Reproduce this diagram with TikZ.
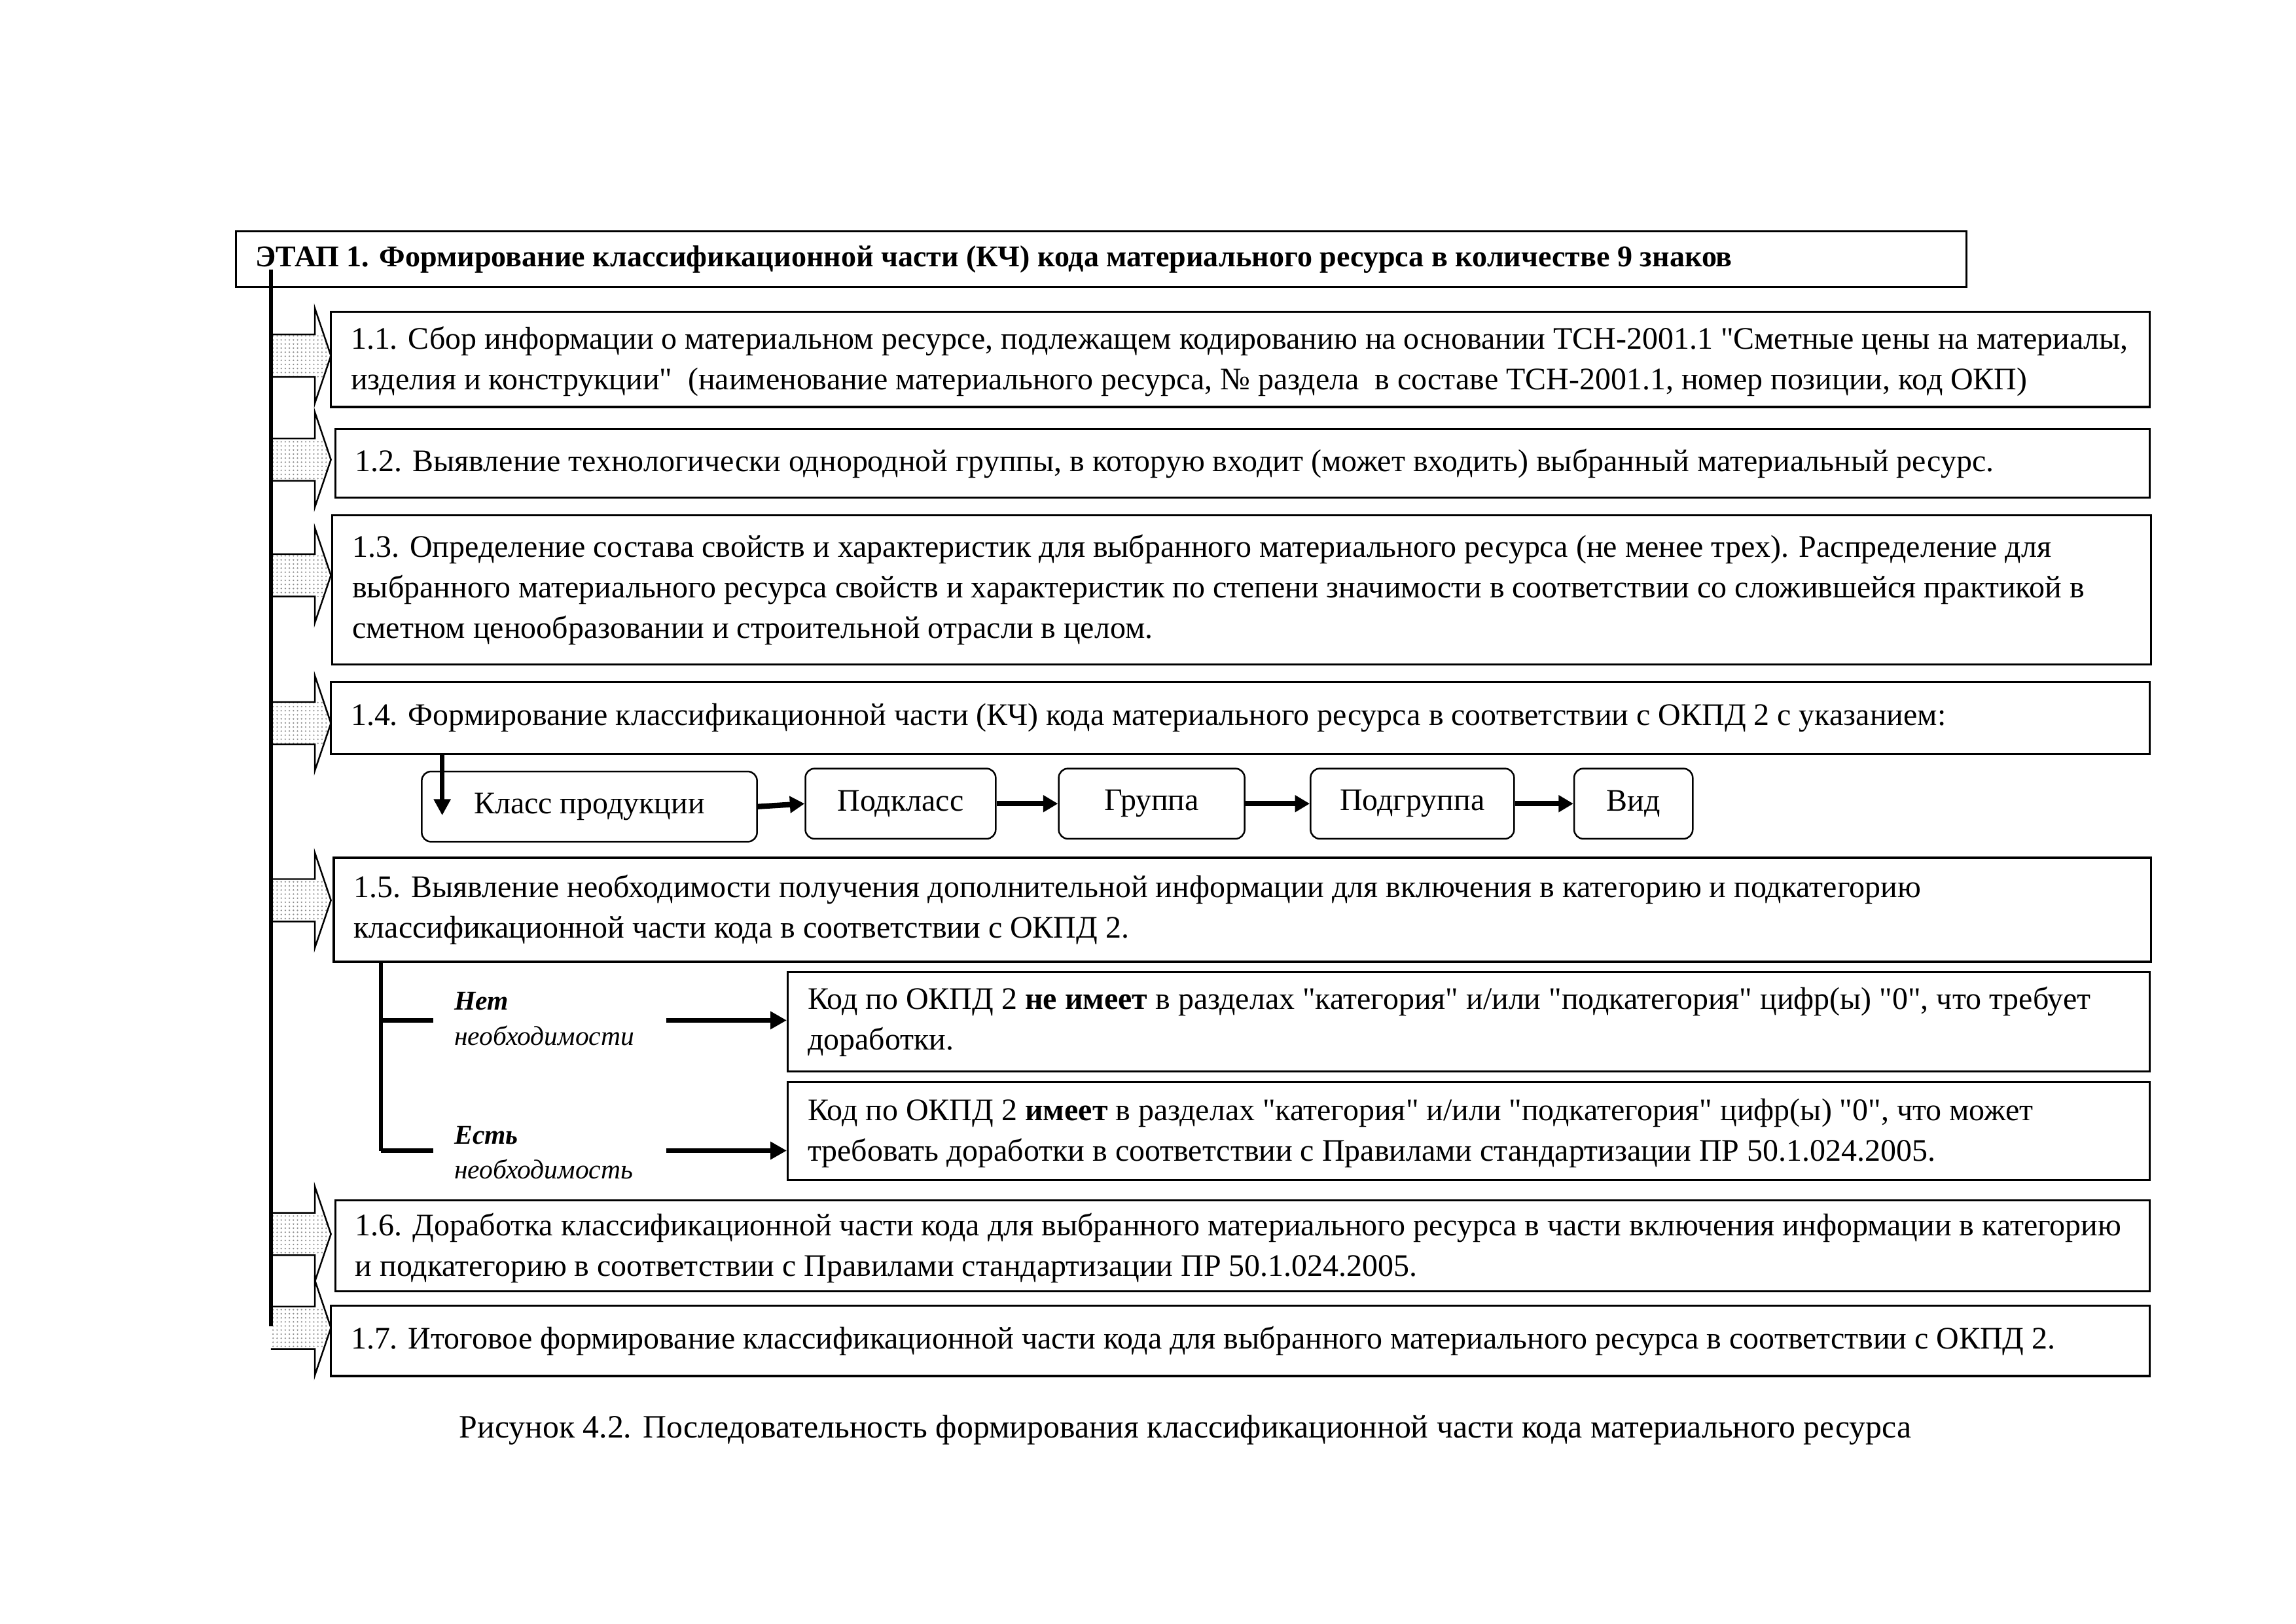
\documentclass[tikz,border=0pt]{standalone}
\usepackage{fontspec}
\setmainfont{Liberation Serif}[Ligatures=TeXOff]
\usetikzlibrary{arrows.meta,patterns}
\pgfdeclarepatternformonly{finedots}{\pgfqpoint{-0.3pt}{-0.3pt}}{\pgfqpoint{0.3pt}{0.3pt}}{\pgfqpoint{1.5pt}{1.5pt}}{%
  \pgfpathcircle{\pgfqpoint{0pt}{0pt}}{0.3pt}\pgfusepath{fill}}
\newcommand\stepArrow[1]{%
 \begin{scope}[shift={(0,#1)}]
  \fill[white] (185,-14.5) -- (215,-14.5) -- (215,-32.5) -- (226,0) -- (215,32.5) -- (215,14.5) -- (185,14.5) -- cycle;
  \begin{scope}
   \clip (185,-14.5) -- (215,-14.5) -- (215,-32.5) -- (226,0) -- (215,32.5) -- (215,14.5) -- (185,14.5) -- cycle;
   \fill[pattern=finedots, pattern color=black!45] (185,-14.5) rectangle (226,14.5);
  \end{scope}
  \draw[line width=0.6pt] (185,-14.5) -- (215,-14.5) -- (215,-32.5) -- (226,0) -- (215,32.5) -- (215,14.5) -- (185,14.5);
 \end{scope}}
\begin{document}
\begin{tikzpicture}[x=0.18941mm,y=-0.18941mm,
  font=\fontsize{11.55}{15}\selectfont,
  box/.style={draw, line width=0.8pt, inner sep=0pt},
  txt/.style={anchor=west, align=left, inner sep=0pt},
  rbox/.style={draw, line width=0.6pt, rounded corners=1.2mm, inner sep=0pt, minimum height=9.09mm},
  chain/.style={line width=2pt, -{Triangle[length=1.9mm,width=2.1mm]}},
  downarrow/.style={line width=1.6pt, -{Triangle[length=2.1mm,width=2.1mm]}},
  branch/.style={line width=1.5pt},
  barrow/.style={line width=1.8pt, -{Triangle[length=2.1mm,width=2.2mm]}},
  lbl/.style={anchor=west, align=left, inner sep=0pt, font=\fontsize{10}{12.9}\selectfont}
]
\useasboundingbox (0,0) rectangle (1568,1109);

% top box
\node[box, minimum width=223.88mm, minimum height=7.20mm] (top) at (752,177) {};
\node[txt, font=\fontsize{11.1}{15}\selectfont\bfseries] (ttop) at ([xshift=2.65mm]top.west) {ЭТАП 1. Формирование классификационной части (КЧ) кода материального ресурса в количестве 9 знаков};

% main boxes
\node[box, minimum width=235.25mm, minimum height=12.31mm] (b11) at (847,245.5) {};
\node[box, minimum width=234.68mm, minimum height=8.90mm] (b12) at (848.5,316.5) {};
\node[box, minimum width=235.25mm, minimum height=19.32mm] (b13) at (848,403) {};
\node[box, minimum width=235.25mm, minimum height=9.28mm] (b14) at (847,490.5) {};
\node[box, minimum width=235.06mm, minimum height=13.45mm] (b15) at (848.5,621.5) {};
\node[box, minimum width=176.15mm, minimum height=12.88mm] (bn) at (1003,698) {};
\node[box, minimum width=176.15mm, minimum height=12.69mm] (be) at (1003,772.5) {};
\node[box, minimum width=234.68mm, minimum height=11.74mm] (b16) at (848.5,851) {};
\node[box, minimum width=235.25mm, minimum height=9.09mm] (b17) at (847,916) {};

\node[txt] (t11) at ([xshift=2.65mm,yshift=-0.3mm]b11.west) {1.1. Сбор информации о материальном ресурсе, подлежащем кодированию на основании ТСН-2001.1 "Сметные цены на материалы,\\изделия и конструкции"\ \ (наименование материального ресурса, № раздела\ \ в составе ТСН-2001.1, номер позиции, код ОКП)};
\node[txt] (t12) at ([xshift=2.65mm]b12.west) {1.2. Выявление технологически однородной группы, в которую входит (может входить) выбранный материальный ресурс.};
\node[txt] (t13) at ([xshift=2.65mm]b13.west) {1.3. Определение состава свойств и характеристик для выбранного материального ресурса (не менее трех). Распределение для\\выбранного материального ресурса свойств и характеристик по степени значимости в соответствии со сложившейся практикой в\\сметном ценообразовании и строительной отрасли в целом.};
\node[txt] (t14) at ([xshift=2.65mm]b14.west) {1.4. Формирование классификационной части (КЧ) кода материального ресурса в соответствии с ОКПД 2 с указанием:};
\node[txt] (t15) at ([xshift=2.65mm]b15.west) {1.5. Выявление необходимости получения дополнительной информации для включения в категорию и подкатегорию\\классификационной части кода в соответствии с ОКПД 2.};
\node[txt] (tn) at ([xshift=2.65mm]bn.west) {Код по ОКПД 2 \textbf{не имеет} в разделах "категория" и/или "подкатегория" цифр(ы) "0", что требует\\доработки.};
\node[txt] (te) at ([xshift=2.65mm,yshift=-0.3mm]be.west) {Код по ОКПД 2 \textbf{имеет} в разделах "категория" и/или "подкатегория" цифр(ы) "0", что может\\требовать доработки в соответствии с Правилами стандартизации ПР 50.1.024.2005.};
\node[txt] (t16) at ([xshift=2.65mm,yshift=-0.3mm]b16.west) {1.6. Доработка классификационной части кода для выбранного материального ресурса в части включения информации в категорию\\и подкатегорию в соответствии с Правилами стандартизации ПР 50.1.024.2005.};
\node[txt] (t17) at ([xshift=2.65mm]b17.west) {1.7. Итоговое формирование классификационной части кода для выбранного материального ресурса в соответствии с ОКПД 2.};

% chain of rounded boxes
\node[rbox, minimum width=43.37mm] (k) at (402.5,551) {Класс продукции};
\node[rbox, minimum width=24.62mm] (p) at (615,549) {Подкласс};
\node[rbox, minimum width=24.05mm] (g) at (786.5,549) {Группа};
\node[rbox, minimum width=26.33mm] (pg) at (964.5,549) {Подгруппа};
\node[rbox, minimum width=15.34mm] (v) at (1115.5,549) {Вид};
\draw[chain] (k.east) -- (p.west);
\draw[chain] (p.east) -- (g.west);
\draw[chain] (g.east) -- (pg.west);
\draw[chain] (pg.east) -- (v.west);
\coordinate (dx) at (302,557);
\draw[downarrow] (b14.south -| dx) -- (dx);

% left block arrows
\stepArrow{243}
\stepArrow{314}
\stepArrow{393}
\stepArrow{494}
\stepArrow{615}
\stepArrow{843}
\stepArrow{907}

% spine
\coordinate (spinetop) at (185,184);
\coordinate (spinebot) at (185,906);
\draw[line width=1.5pt] (spinetop) -- (spinebot);

% branch
\coordinate (br1) at (260,697);
\coordinate (br2) at (260,786);
\draw[branch] (b15.south -| br1) -- (br2);
\draw[line width=1.8pt] (br1) -- ++(36,0);
\draw[line width=1.8pt] (br2) -- ++(36,0);
\node[lbl] (lnet) at (310,696) {\textbf{\textit{Нет}}\\\textit{необходимости}};
\node[lbl] (lest) at (310,787.5) {\textbf{\textit{Есть}}\\\textit{необходимость}};
\coordinate (a1) at (455,697);
\coordinate (a2) at (455,786);
\draw[barrow] (a1) -- (a1 -| bn.west);
\draw[barrow] (a2) -- (a2 -| be.west);

% caption
\node[inner sep=0pt, font=\fontsize{12}{15}\selectfont] (cap) at (809.5,977) {Рисунок 4.2. Последовательность формирования классификационной части кода материального ресурса};
\end{tikzpicture}
\end{document}
